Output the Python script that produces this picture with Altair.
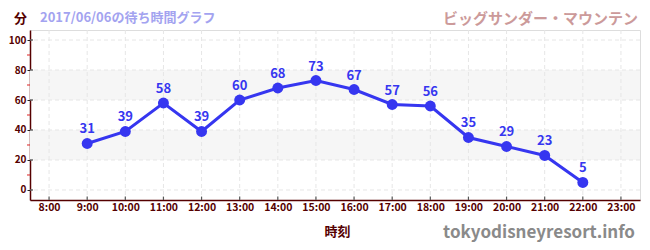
import altair as alt
import pandas as pd

hours = [9, 10, 11, 12, 13, 14, 15, 16, 17, 18, 19, 20, 21, 22]
waits = [31, 39, 58, 39, 60, 68, 73, 67, 57, 56, 35, 29, 23, 5]
tick_hours = list(range(8, 24))
band_lo = [20, 60]
band_hi = [40, 80]
major_y = [0, 20, 40, 60, 80, 100]
minor_y = [10, 30, 50, 70, 90]

FONT = "Noto Sans CJK JP"
DARK = "#550000"
BLUE = "#3636f0"

df = pd.DataFrame({"hour": hours, "wait": waits})
bands = pd.DataFrame({"lo": band_lo, "hi": band_hi})
xt = pd.DataFrame({"hour": tick_hours})
minor = pd.DataFrame({"wait": minor_y})
major = pd.DataFrame({"wait": major_y})

xs = alt.Scale(domain=[7.5, 23.5], nice=False, zero=False)
ys = alt.Scale(domain=[-6.67, 106.67], nice=False, zero=False)

xaxis = alt.Axis(values=tick_hours, labelExpr="datum.value + ':00'",
                 title="時刻", titleX=307, titleY=31, titleAlign="center",
                 titleBaseline="middle", titleFont=FONT, titleFontSize=13,
                 titleFontWeight="bold", titleColor=DARK,
                 labelFont=FONT, labelFontSize=10.5, labelColor=DARK,
                 labelFontWeight="bold", ticks=False, labelPadding=2,
                 domainColor=DARK, domainWidth=1.5, grid=False)
yaxis = alt.Axis(values=major_y, title="分", titleAngle=0, titleX=-10, titleY=-12,
                 titleAlign="center", titleBaseline="middle", titleFont=FONT,
                 titleFontSize=13, titleFontWeight="bold", titleColor=DARK,
                 labelFont=FONT, labelFontSize=10, labelColor=DARK,
                 labelFontWeight="bold", tickColor="#222222", tickSize=3,
                 labelPadding=1, domainColor=DARK, domainWidth=1.5, grid=False)

X = lambda f="hour": alt.X(f"{f}:Q", scale=xs, axis=xaxis)
Y = lambda f="wait": alt.Y(f"{f}:Q", scale=ys, axis=yaxis)

band = alt.Chart(bands).mark_rect(color="#f6f6f6").encode(
    y=alt.Y("lo:Q", scale=ys, axis=yaxis), y2="hi:Q",
    x=alt.value(0), x2=alt.value(610)
)

vgrid = alt.Chart(xt).mark_rule(color="#e6e6e6", strokeDash=[4, 3], strokeWidth=1).encode(
    x=X()
)
hgrid = alt.Chart(major).mark_rule(color="#e6e6e6", strokeDash=[4, 3], strokeWidth=1).encode(
    y=Y()
)

xticks = alt.Chart(xt).mark_rule(color="#555555", strokeWidth=1.2).encode(
    x=X(),
    y=alt.Y("y0:Q", scale=ys, axis=yaxis),
    y2="y1:Q"
).transform_calculate(y0="-6.67", y1="-4.4")

minor_ticks = alt.Chart(minor).mark_rule(color="#dd2222", strokeWidth=1).encode(
    y=Y(), x=alt.value(-3), x2=alt.value(0)
)
major_in = alt.Chart(major).mark_rule(color="#222222", strokeWidth=1).encode(
    y=Y(), x=alt.value(0), x2=alt.value(3)
)

base = alt.Chart(df).encode(x=X(), y=Y())

line = base.mark_line(color=BLUE, strokeWidth=3)
pts = base.mark_circle(color=BLUE, size=120, opacity=1)
labels = base.mark_text(color=BLUE, dy=-14, font=FONT, fontSize=13, fontWeight="bold").encode(
    text="wait:Q"
)

one = pd.DataFrame({"t": ["2017/06/06の待ち時間グラフ"]})
date_text = alt.Chart(one).mark_text(align="left", baseline="middle", font=FONT, fontSize=13,
                                     fontWeight="bold", color="#a3a3f0").encode(
    text="t:N", x=alt.value(10), y=alt.value(-12)
)
ttl = pd.DataFrame({"t": ["ビッグサンダー・マウンテン"]})
title_text = alt.Chart(ttl).mark_text(align="right", baseline="middle", font=FONT, fontSize=15,
                                      fontWeight="bold", color="#cc9a9a").encode(
    text="t:N", x=alt.value(608), y=alt.value(-11)
)
wm = pd.DataFrame({"t": ["tokyodisneyresort.info"]})
wm_text = alt.Chart(wm).mark_text(align="right", baseline="middle", font=FONT, fontSize=17,
                                  fontWeight="bold", color="#8a8a8a").encode(
    text="t:N", x=alt.value(605), y=alt.value(203)
)

chart = alt.layer(band, vgrid, hgrid, xticks, minor_ticks, major_in, line, pts, labels,
                  date_text, title_text, wm_text).properties(
    width=610, height=170,
    autosize=alt.AutoSizeParams(type="none"),
    padding={"left": 22, "top": 22, "right": 2, "bottom": 42},
).configure_view(stroke=None).configure(background="white")

chart.save("out.html", embed_options={"renderer": "svg", "actions": False})
